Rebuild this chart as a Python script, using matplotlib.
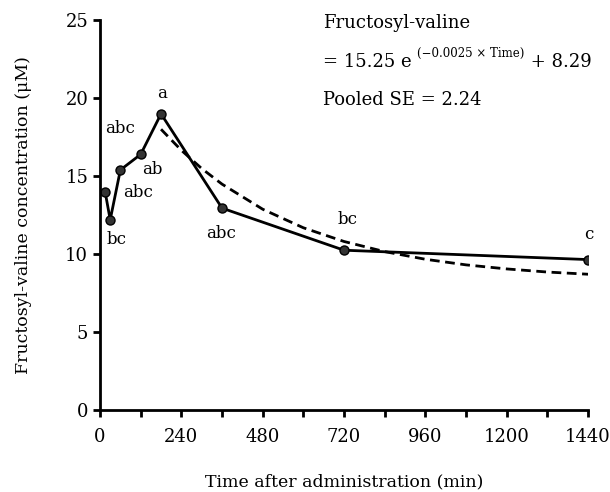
import matplotlib
matplotlib.use("Agg")
import matplotlib.pyplot as plt
from matplotlib.ticker import MultipleLocator

plt.rcParams['font.family'] = ['DejaVu Serif']

# measured means
time_min = [15, 30, 60, 120, 180, 360, 720, 1440]
conc = [14.0, 12.2, 15.4, 16.4, 19.0, 12.95, 10.25, 9.65]
letters = ["abc", "bc", "abc", "ab", "a", "abc", "bc", "c"]

# fitted curve
fit_time = [180, 240, 300, 360, 480, 600, 720, 840, 960, 1080, 1200, 1320, 1440]
fit_conc = [18.01, 16.66, 15.49, 14.49, 12.88, 11.69, 10.81, 10.16, 9.67, 9.31, 9.05, 8.85, 8.71]

# where each letter sits relative to its point (pixels)
letter_offsets = [(15, 63), (6, -20), (18, -23), (12, -15), (1, 20), (-1, -25), (4, 31), (1, 25)]


def main():
    fig = plt.figure(figsize=(6.1, 4.92), dpi=100)
    ax = fig.add_axes([0.164, 0.1667, 0.800, 0.792])

    ax.plot(fit_time, fit_conc, color='black', lw=2, ls=(0, (3.5, 2)))
    ax.plot(time_min, conc, color='black', lw=2, marker='o', ms=6.5,
            markerfacecolor='#333333', markeredgecolor='black')

    for t, c, lab, off in zip(time_min, conc, letters, letter_offsets):
        ax.annotate(lab, (t, c), xytext=off, textcoords='offset pixels',
                    ha='center', va='center', fontsize=12)

    ax.set_xlim(0, 1440)
    ax.set_ylim(0, 25)
    ax.xaxis.set_major_locator(MultipleLocator(240))
    ax.xaxis.set_minor_locator(MultipleLocator(120))
    ax.yaxis.set_major_locator(MultipleLocator(5))

    for s in ['top', 'right']:
        ax.spines[s].set_visible(False)
    for s in ['left', 'bottom']:
        ax.spines[s].set_linewidth(2)
    ax.tick_params(which='both', direction='out', width=2, labelsize=13)
    ax.tick_params(which='major', length=5)
    ax.tick_params(which='minor', length=5)
    ax.tick_params(axis='x', pad=8)

    ax.set_xlabel("Time after administration (min)", fontsize=12.5, labelpad=20)
    ax.set_ylabel("Fructosyl-valine concentration (\u03bcM)", fontsize=12.5, labelpad=24)

    x0 = 0.457
    ax.text(x0, 0.993, "Fructosyl-valine", transform=ax.transAxes,
            fontsize=13, va='center', ha='left')
    eq1 = ax.text(x0, 0.892, "= 15.25 e ", transform=ax.transAxes,
                  fontsize=13, va='center', ha='left')
    eq2 = ax.annotate("(\u22120.0025 \u00d7 Time)", xy=(1, 0.62), xycoords=eq1,
                      fontsize=8.5, va='bottom', ha='left')
    ax.annotate(" + 8.29", xy=(1, 0), xycoords=(eq2, eq1),
                fontsize=13, va='bottom', ha='left')
    ax.text(x0, 0.795, "Pooled SE = 2.24", transform=ax.transAxes,
            fontsize=13, va='center', ha='left')

    fig.savefig("out.png", dpi=100)


if __name__ == "__main__":
    main()
